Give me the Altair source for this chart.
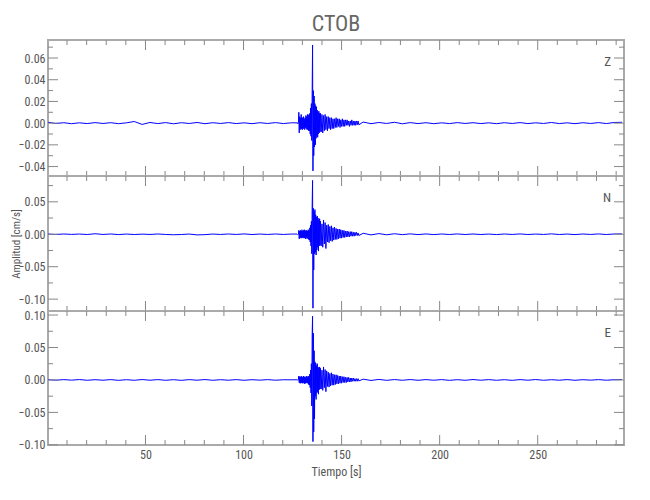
import altair as alt
import pandas as pd

# ---------------------------------------------------------------
# Trace sampling: (start time [s], step [s]) for each segment
PRE_T0, PRE_DT = 0.3, 4.0
EVT_T0, EVT_DT = 127.2, 0.2
CODA_T0, CODA_DT = 139.2, 0.4
POST_T0, POST_DT = 161.0, 4.0

# Amplitudes, in units of 1e-3 cm/s
z_pre = [0.8, -0.3, 0.4, -0.5, 0.3, -0.4, 0.5, -0.3, 0.4, -0.5, 0.3, 1.5, -1.2, 0.6, -0.4, 0.5,
         -0.6, 0.4, -0.3, 0.6, -0.5, 0.4, -0.3, 0.5, -0.4, 0.3, -0.5, 0.4, -0.3, 0.5, -0.4, 0.3]
z_evt = [0.3, -0.3, 0.4, -0.4, 0.5, 10, -9, 6, -5, 5, -6, 8, -5, 5, -6,
         5, -5, 6, -5, 4, -6, 5, -4, 7, -5, 6, -6, 8, -6, 7, -7, 8, -7, 9, -10,
         14, -12, 18, -16, 30, 72, -44, 30, -30, 25, -22, 18, -20, 16, -14,
         15, -12, 12, -13, 10, -10, 11, -9, 9, -8]
z_coda = [9, -8, 8, -9, 7, -7, 8, -6, 6, -7, 6, -5, 5, -6, 5, -5, 4, -5, 4, -4,
          5, -4, 4, -3, 4, -4, 3, -3, 4, -3, 3, -3, 3, -2, 3, -2, 2, -3, 2, -2,
          3, -2, 2, -2, 2, -2, 2, -1.5, 2, -1.5]
z_post = [1.0, -0.5, 0.6, -0.3, 0.8, -0.6, 0.5, -0.4, 0.4, -0.5, 0.3, -0.4, 0.5, -0.3, 0.4, -0.4,
          0.3, -0.5, 0.4, -0.3, 0.5, -0.4, 0.3, -0.3, 0.6, -0.4, 0.3, -0.5, 0.4, -0.3, 0.5, -0.4,
          0.6, 0.8]

n_pre = [0.3, -0.3, 0.4, -0.2, 0.3, -0.4, 0.8, -0.3, 0.4, -0.5, 0.3, -0.4, 0.2, -0.3, 0.4, -0.3,
         -0.8, -0.4, 0.3, -1.0, -0.6, 0.3, -0.3, 0.4, -0.3, 0.5, -0.4, 0.3, -0.3, 0.4, -0.3, 0.3]
n_evt = [0.3, -0.3, 0.4, -0.3, 0.4, 6, -7, 5, -6, 6, -5, 5, -6, 7, -5,
         5, -6, 6, -5, 7, -6, 5, -7, 6, -5, 6, -7, 5, -6, 7, -8, 6, -9, 10, -12,
         14, -18, 20, -30, 45, 83, -114, 40, -55, 35, -30, 38, -28, 30, -32,
         26, -24, 28, -20, 25, -26, 22, -18, 24, -17]
n_coda = [20, -18, 16, -20, 22, -15, 18, -22, 14, -12, 15, -13, 12, -10, 13, -11, 10, -9, 11, -8,
          9, -8, 8, -7, 8, -6, 7, -6, 6, -5, 6, -5, 5, -4, 5, -4, 4, -4, 4, -3,
          4, -3, 3, -3, 3, -2, 3, -2, 2, -2]
n_post = [1.5, -1, 1, -0.8, 0.8, -0.6, 0.6, -0.5, 0.5, -0.5, 0.4, -0.4, 0.5, -0.4, 0.4, -0.4,
          0.3, -0.5, 0.4, -0.3, 0.5, -0.4, 0.3, -0.3, 0.6, -0.4, 0.3, -0.5, 0.4, -0.3, 0.5, -0.4,
          0.4, 0.5]

e_pre = [0.4, -0.4, 0.5, -0.3, 0.6, -0.5, 0.4, -0.4, 0.5, -0.6, 0.4, -0.5, 0.6, -0.4, 0.5, -0.5,
         0.4, -0.6, 0.5, -0.4, 0.6, -0.5, 0.4, -0.4, 0.5, -0.5, 0.4, -0.3, 0.5, -0.4, 0.3, 0.2]
e_evt = [0.3, -0.3, 0.4, -0.3, 0.5, 6, -4, 5, -5, 4, -5, 6, -4, 5, -5,
         4, -5, 6, -4, 5, -6, 4, -5, 5, -4, 6, -5, 4, -5, 6, -7, 5, -8, 9, -12,
         15, -20, 25, -40, 70, 98, -95, 72, -80, 45, -60, 28, -25, 26, -30,
         22, -20, 25, -18, 20, -22, 18, -15, 20, -14]
e_coda = [18, -14, 15, -16, 20, -12, 16, -18, 14, -10, 12, -11, 10, -9, 11, -8, 9, -8, 8, -7,
          8, -6, 7, -6, 6, -5, 6, -5, 5, -4, 5, -4, 4, -4, 4, -3, 4, -3, 3, -3,
          3, -2, 3, -2, 2, -2, 2, -2, 2, -1.5]
e_post = [1.2, -0.8, 0.8, -0.6, 0.6, -0.5, 0.6, -0.5, 0.5, -0.4, 0.5, -0.6, 0.4, -0.5, 0.6, -0.4,
          0.5, -0.5, 0.4, -0.6, 0.5, -0.4, 0.6, -0.5, 0.4, -0.4, 0.5, -0.5, 0.4, -0.3, 0.5, -0.4,
          0.3, 0.6]

# Axes
X_DOMAIN = [0.3, 294.0]
x_labels = [50, 100, 150, 200, 250]
x_minor = [10, 20, 30, 40, 60, 70, 80, 90, 110, 120, 130, 140, 160, 170, 180, 190,
           210, 220, 230, 240, 260, 270, 280, 290]
Z_DOMAIN = [-0.0487, 0.0766]
z_labels = [-0.04, -0.02, 0.0, 0.02, 0.04, 0.06]
z_minor = [-0.03, -0.01, 0.01, 0.03, 0.05, 0.07]
N_DOMAIN = [-0.1183, 0.0898]
n_labels = [-0.10, -0.05, 0.0, 0.05]
n_minor = [-0.075, -0.025, 0.025, 0.075]
E_DOMAIN = [-0.1002, 0.1062]
e_labels = [-0.10, -0.05, 0.0, 0.05, 0.10]
e_minor = [-0.075, -0.025, 0.025, 0.075]

# ---------------------------------------------------------------
FONT = "Liberation Sans Narrow, Roboto Condensed, DejaVu Sans Condensed, sans-serif"
TXT = "#555555"
TICK = "#888888"
W = 576


def seg_times(t0, dt, vals):
    return [t0 + i * dt for i in range(len(vals))]


def trace(pre, evt, coda, post):
    t = (seg_times(PRE_T0, PRE_DT, pre) + seg_times(EVT_T0, EVT_DT, evt)
         + seg_times(CODA_T0, CODA_DT, coda) + seg_times(POST_T0, POST_DT, post))
    a = [v * 1e-3 for v in pre + evt + coda + post]
    return pd.DataFrame({"t": t, "a": a})


def panel(name, df, ydom, ylab, yminor, h, show_x=False, ytitle=None):
    xs = alt.Scale(domain=X_DOMAIN, nice=False, zero=False)
    ys = alt.Scale(domain=ydom, nice=False, zero=False)
    if show_x:
        xaxis = alt.Axis(values=x_labels, format="d", tickSize=0, domain=False, grid=False,
                         labelPadding=4, labelFlush=False, title="Tiempo [s]", titlePadding=6)
    else:
        xaxis = None
    if ytitle:
        yaxis = alt.Axis(values=ylab, format=".2f", tickSize=0, domain=False, grid=False,
                         labelPadding=3, labelFlush=False, title=ytitle,
                         titleX=-27, titleY=h / 2, titleFontSize=11)
    else:
        yaxis = alt.Axis(values=ylab, format=".2f", tickSize=0, domain=False, grid=False,
                         labelPadding=3, labelFlush=False, title=None)
    line = alt.Chart(df).mark_line(color="#0000ff", strokeWidth=1, clip=True).encode(
        x=alt.X("t:Q", scale=xs, axis=xaxis),
        y=alt.Y("a:Q", scale=ys, axis=yaxis),
    )
    layers = [line]
    for vals, L in ((x_labels, 10), (x_minor, 5)):
        d = pd.DataFrame({"v": vals})
        layers.append(alt.Chart(d).mark_rule(color=TICK, strokeWidth=1).encode(
            x=alt.X("v:Q", scale=xs, axis=xaxis), y=alt.value(0), y2=alt.value(L)))
        layers.append(alt.Chart(d).mark_rule(color=TICK, strokeWidth=1).encode(
            x=alt.X("v:Q", scale=xs, axis=xaxis), y=alt.value(h), y2=alt.value(h - L)))
    for vals, L in ((ylab, 10), (yminor, 5)):
        d = pd.DataFrame({"v": vals})
        layers.append(alt.Chart(d).mark_rule(color=TICK, strokeWidth=1).encode(
            y=alt.Y("v:Q", scale=ys, axis=yaxis), x=alt.value(0), x2=alt.value(L)))
        layers.append(alt.Chart(d).mark_rule(color=TICK, strokeWidth=1).encode(
            y=alt.Y("v:Q", scale=ys, axis=yaxis), x=alt.value(W), x2=alt.value(W - L)))
    label = alt.Chart(pd.DataFrame({"c": [name]})).mark_text(
        align="right", baseline="middle", fontSize=13, font=FONT, color=TXT
    ).encode(text="c:N", x=alt.value(563), y=alt.value(22))
    layers.append(label)
    return alt.layer(*layers).properties(width=W, height=h)


pz = panel("Z", trace(z_pre, z_evt, z_coda, z_post), Z_DOMAIN, z_labels, z_minor, 136).properties(
    title=alt.Title("CTOB", fontSize=22, font=FONT, color="#666666", fontWeight="normal",
                    anchor="middle", offset=4))
pn = panel("N", trace(n_pre, n_evt, n_coda, n_post), N_DOMAIN, n_labels, n_minor, 135,
           ytitle="Amplitud [cm/s]")
pe = panel("E", trace(e_pre, e_evt, e_coda, e_post), E_DOMAIN, e_labels, e_minor, 134, show_x=True)

chart = alt.vconcat(pz, pn, pe, spacing=0, bounds="flush").properties(
    padding={"left": 0, "top": 3, "right": 5, "bottom": 5}
).configure_view(
    stroke="#aaaaaa", strokeWidth=2
).configure_axis(
    labelFont=FONT, labelFontSize=12, labelColor=TXT,
    titleFont=FONT, titleFontSize=12, titleColor=TXT, titleFontWeight="normal"
)

chart.save("out.html", embed_options={"renderer": "svg", "actions": False})
